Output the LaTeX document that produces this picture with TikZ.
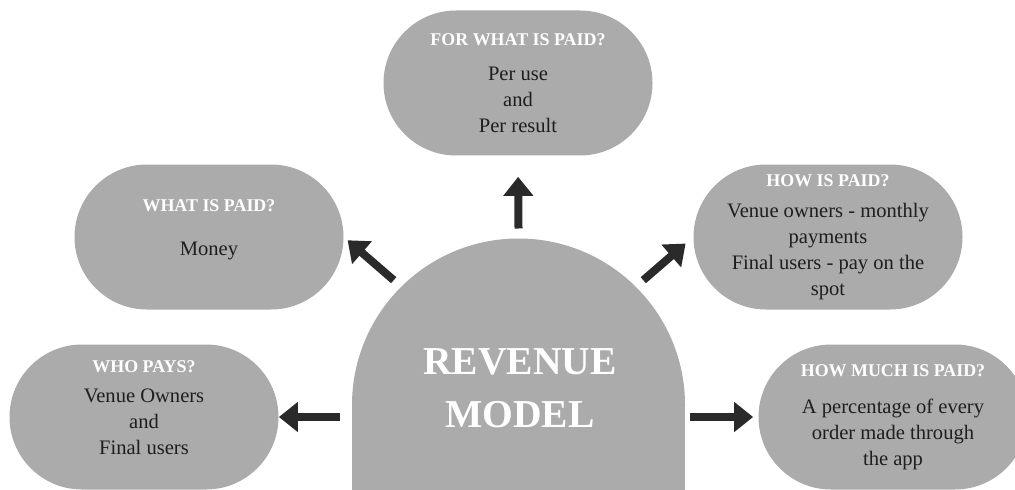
\documentclass[tikz,border=0pt]{standalone}
\usepackage{fontspec}
\setmainfont{Liberation Serif}
\usetikzlibrary{arrows.meta, positioning}
\definecolor{pillgray}{HTML}{ABABAB}
\definecolor{arrowdark}{HTML}{2A2A2A}
\definecolor{bodytext}{HTML}{1E1E1E}
\newcommand{\hd}[1]{{\color{white}\fontsize{10.2}{12}\selectfont\bfseries #1}}
\tikzset{
  pill/.style = {rectangle, fill=pillgray, minimum width=5.38cm,
    minimum height=2.9cm, rounded corners=1.45cm, inner sep=0pt,
    align=center, text=bodytext, font=\fontsize{11.7}{14.8}\selectfont},
  arr/.style = {->, draw=arrowdark, line width=0.16cm}
}

\begin{document}
\begin{tikzpicture}[>={Triangle[width=0.58cm,length=0.38cm]}]
\clip (0,0) rectangle (20.3,9.78);
% the dome in the middle
\node [circle, fill=pillgray, minimum size=6.66cm, outer sep=0.2cm] (dome) at (10.37,1.68) {};
\node [fill=pillgray, minimum width=6.66cm, minimum height=2cm, inner sep=0pt,
  anchor=north] (domebase) at (dome.center) {};
\node [text=white, align=center, font=\fontsize{22.5}{30}\selectfont\bfseries]
  (title) at (10.4,2.02) {REVENUE\\MODEL};
% the five questions
\node [pill] (forwhat) at (10.36,8.12) {\hd{FOR WHAT IS PAID?}\\[5pt] Per use\\and\\Per result};
\node [pill] (whatpaid) at (4.18,5.04) {\hd{WHAT IS PAID?}\\[10pt] Money\\[-4pt]\mbox{}};
\node [pill] (howpaid) at (16.56,5.04) {\hd{HOW IS PAID?}\\[3pt] Venue owners - monthly\\payments\\
  Final users - pay on the\\spot};
\node [pill] (whopays) at (2.88,1.44) {\hd{WHO PAYS?}\\[2pt] Venue Owners\\and\\Final users\\[-4pt]\mbox{}};
\node [pill] (howmuch) at (17.86,1.44) {\hd{HOW MUCH IS PAID?}\\[6pt] A percentage of every\\
  order made through\\the app};
% arrows
\draw [arr, shorten >=0.42cm] (dome.90) -- (forwhat.south);
\draw [arr, shorten >=0.1cm] (dome.135) -- (whatpaid.east);
\draw [arr, shorten >=0.2cm] (dome.45) -- (howpaid.west);
\draw [arr, shorten <=0.24cm] (whopays.east -| domebase.west) -- (whopays.east);
\draw [arr, shorten <=0.1cm, shorten >=0.1cm] (howmuch.west -| domebase.east) -- (howmuch.west);
\end{tikzpicture}
\end{document}
